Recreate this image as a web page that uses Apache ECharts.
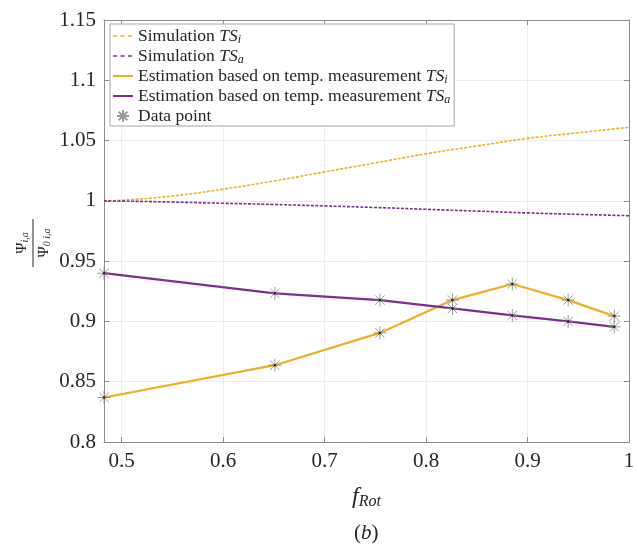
<!DOCTYPE html>
<html>
<head>
<meta charset="utf-8">
<script src="https://cdn.jsdelivr.net/npm/echarts@6/dist/echarts.min.js"></script>
<style>html,body{margin:0;padding:0;background:#fff;}#c{width:639px;height:545px;}</style>
</head>
<body>
<div id="c"></div>
<script>
// ---- data ----
const fSim   = [0.4826, 0.5, 0.55, 0.6, 0.65, 0.7, 0.75, 0.8, 0.85, 0.9, 0.95, 1.0];
const simTSi = [1.0, 1.0005, 1.004, 1.0097, 1.0165, 1.024, 1.0315, 1.039, 1.0455, 1.0518, 1.0565, 1.061];
const simTSa = [1.0, 0.9998, 0.999, 0.998, 0.997, 0.9958, 0.9945, 0.993, 0.9915, 0.990, 0.9888, 0.9877];
const fMeas  = [0.4826, 0.651, 0.7545, 0.826, 0.885, 0.940, 0.9855];
const estTSi = [0.8369, 0.8637, 0.8905, 0.9177, 0.931, 0.9177, 0.9044];
const estTSa = [0.940, 0.9233, 0.9177, 0.9108, 0.905, 0.900, 0.8955];
const xTicks = [0.5, 0.6, 0.7, 0.8, 0.9, 1.0];
const xMin = 0.4826, xMax = 1.0;
const yMin = 0.8, yMax = 1.15, yStep = 0.05;

const seriesNames = ['simTSi', 'simTSa', 'estTSi', 'estTSa', 'data'];
const legendText = {
  simTSi: '{n|Simulation }{it|TS}{sub|i}',
  simTSa: '{n|Simulation }{it|TS}{sub|a}',
  estTSi: '{n|Estimation based on temp. measurement }{it|TS}{sub|i}',
  estTSa: '{n|Estimation based on temp. measurement }{it|TS}{sub|a}',
  data: '{n|Data point}'
};

const YELLOW = '#EDB120', PURPLE = '#7E2F8E', GREY = '#7f7f7f', AX = '#8c8c8c';
const SERIF = 'Liberation Serif';
const zip = (xs, ys) => xs.map((x, i) => [x, ys[i]]);
const asterisk = 'path://M0,-6L0,6M-6,0L6,0M-4.3,-4.3L4.3,4.3M-4.3,4.3L4.3,-4.3';
// legend icons in a 20x12 box (tiny corner dots keep the box size)
const corners = 'M0,0h0.01v0.01h-0.01zM19.99,11.99h0.01v0.01h-0.01z';
const dashIcon = 'path://' + corners + 'M0,5.3h4v1.4h-4zM7.5,5.3h4v1.4h-4zM15,5.3h4v1.4h-4z';
const solidIcon = 'path://' + corners + 'M0,5h20v2h-20z';
const dataPts = zip(fMeas, estTSi).concat(zip(fMeas, estTSa));

const chart = echarts.init(document.getElementById('c'), null, {renderer: 'canvas'});
const axisCommon = {
  type: 'value',
  axisLine: {show: true, lineStyle: {color: AX, width: 1}},
  axisTick: {show: true, inside: true, length: 5, lineStyle: {color: AX}},
};
chart.setOption({
  animation: false,
  backgroundColor: '#fff',
  grid: {left: 104, right: 10, top: 20, bottom: 103, containLabel: false},
  xAxis: [
    Object.assign({}, axisCommon, {
      min: xMin, max: xMax, position: 'bottom',
      axisTick: {show: true, inside: true, length: 5, lineStyle: {color: AX}, customValues: xTicks},
      axisLabel: {customValues: xTicks, margin: 9, fontFamily: SERIF, fontSize: 21, color: '#262626',
        formatter: v => String(+v.toFixed(2))},
      splitLine: {show: true, lineStyle: {color: '#ebebeb', width: 1}},
      name: '{f|f}{s|Rot}', nameLocation: 'middle', nameGap: 42,
      nameTextStyle: {rich: {
        f: {fontFamily: SERIF, fontStyle: 'italic', fontSize: 24, color: '#262626', lineHeight: 26},
        s: {fontFamily: SERIF, fontStyle: 'italic', fontSize: 16, color: '#262626', lineHeight: 12, verticalAlign: 'bottom'}
      }}
    }),
    Object.assign({}, axisCommon, {
      min: xMin, max: xMax, position: 'top',
      axisTick: {show: true, inside: true, length: 5, lineStyle: {color: AX}, customValues: xTicks},
      axisLabel: {show: false, customValues: xTicks},
      splitLine: {show: false}
    })
  ],
  yAxis: [
    Object.assign({}, axisCommon, {
      min: yMin, max: yMax, interval: yStep, position: 'left',
      axisLabel: {margin: 8, fontFamily: SERIF, fontSize: 21, color: '#262626',
        formatter: v => String(+v.toFixed(2))},
      splitLine: {show: true, lineStyle: {color: '#ebebeb', width: 1}}
    }),
    Object.assign({}, axisCommon, {
      min: yMin, max: yMax, interval: yStep, position: 'right',
      axisLabel: {show: false}, splitLine: {show: false}
    })
  ],
  legend: {
    data: [
      {name: 'simTSi', icon: dashIcon},
      {name: 'simTSa', icon: dashIcon},
      {name: 'estTSi', icon: solidIcon},
      {name: 'estTSa', icon: solidIcon},
      {name: 'data'}
    ],
    orient: 'vertical', left: 110, top: 24,
    padding: [2, 4, 0, 3], itemGap: 0,
    itemWidth: 20, itemHeight: 12,
    backgroundColor: '#fff', borderColor: '#a6a6a6', borderWidth: 1,
    formatter: n => legendText[n],
    textStyle: {
      lineHeight: 20,
      rich: {
        n: {fontFamily: SERIF, fontSize: 17.5, color: '#262626', lineHeight: 20},
        it: {fontFamily: SERIF, fontStyle: 'italic', fontSize: 17.5, color: '#262626', lineHeight: 20},
        sub: {fontFamily: SERIF, fontStyle: 'italic', fontSize: 12, color: '#262626', lineHeight: 12, verticalAlign: 'bottom'}
      }
    }
  },
  title: {
    text: '{n|(}{it|b}{n|)}', left: 349, top: 518,
    textStyle: {fontWeight: 'normal', rich: {
      n: {fontFamily: SERIF, fontSize: 21, fontWeight: 'normal', color: '#262626'},
      it: {fontFamily: SERIF, fontStyle: 'italic', fontWeight: 'normal', fontSize: 21, color: '#262626'}
    }}
  },
  graphic: [{
    type: 'group', x: 33, y: 243, rotation: Math.PI / 2,
    children: [
      {type: 'line', shape: {x1: -24, y1: 0, x2: 24, y2: 0}, style: {stroke: '#262626', lineWidth: 1}},
      {type: 'text', x: 0, y: -11, style: {
        text: '{p|Ψ}{s|i,a}', align: 'center', verticalAlign: 'middle',
        rich: {p: {fontFamily: SERIF, fontSize: 15, fill: '#262626', lineHeight: 16},
               s: {fontFamily: SERIF, fontStyle: 'italic', fontSize: 10, fill: '#262626', lineHeight: 10, verticalAlign: 'bottom'}}
      }},
      {type: 'text', x: 0, y: 11, style: {
        text: '{p|Ψ}{s|0 i,a}', align: 'center', verticalAlign: 'middle',
        rich: {p: {fontFamily: SERIF, fontSize: 15, fill: '#262626', lineHeight: 16},
               s: {fontFamily: SERIF, fontStyle: 'italic', fontSize: 10, fill: '#262626', lineHeight: 10, verticalAlign: 'bottom'}}
      }}
    ]
  }],
  series: [
    {name: 'simTSi', type: 'line', data: zip(fSim, simTSi), showSymbol: false, symbol: 'none', smooth: true,
     lineStyle: {color: YELLOW, width: 1.6, type: [3, 1.5]}, itemStyle: {color: YELLOW}, z: 3},
    {name: 'simTSa', type: 'line', data: zip(fSim, simTSa), showSymbol: false, symbol: 'none', smooth: true,
     lineStyle: {color: PURPLE, width: 1.6, type: [3, 1.5]}, itemStyle: {color: PURPLE}, z: 3},
    {name: 'estTSi', type: 'line', data: zip(fMeas, estTSi), symbol: 'none',
     lineStyle: {color: YELLOW, width: 2.2}, itemStyle: {color: YELLOW}, z: 4},
    {name: 'estTSa', type: 'line', data: zip(fMeas, estTSa), symbol: 'none',
     lineStyle: {color: PURPLE, width: 2.2}, itemStyle: {color: PURPLE}, z: 4},
    {name: 'data', type: 'scatter', data: dataPts, symbol: asterisk, symbolSize: 13,
     itemStyle: {color: 'none', borderColor: GREY, borderWidth: 1}, z: 5},
    {name: 'dataDot', type: 'scatter', data: dataPts, symbol: 'circle', symbolSize: 2.5,
     itemStyle: {color: '#111'}, z: 6, silent: true}
  ]
});
</script>
</body>
</html>
